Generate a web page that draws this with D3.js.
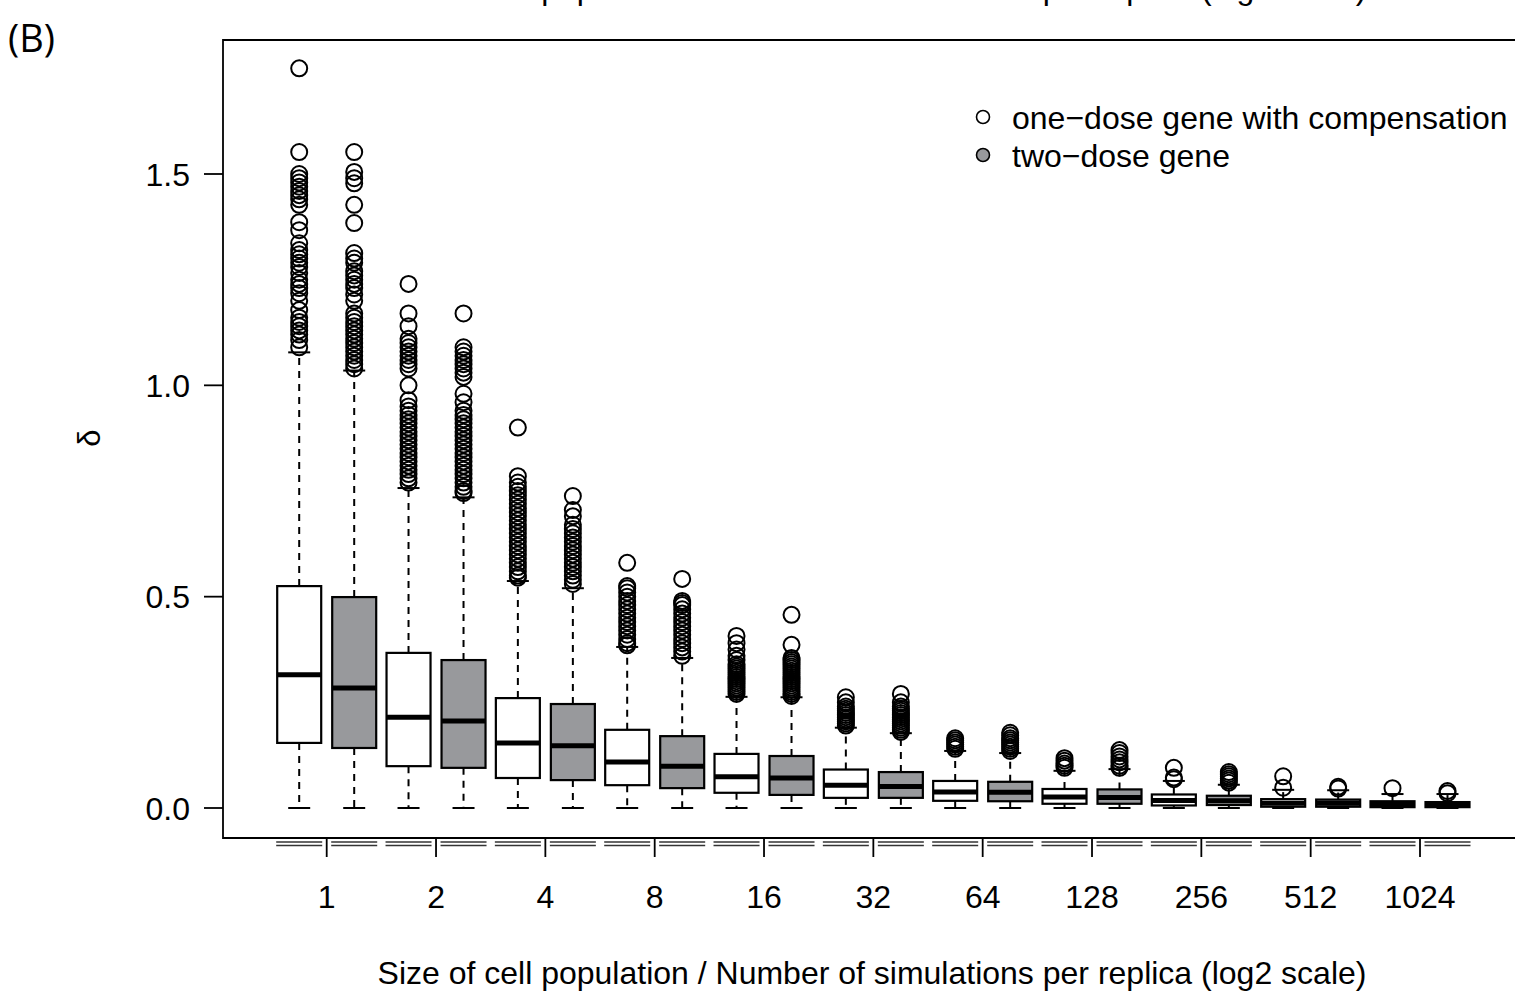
<!DOCTYPE html>
<html>
<head>
<meta charset="utf-8">
<script src="https://cdn.jsdelivr.net/npm/d3@7"></script>
<style>
  body { margin: 0; background: #fff; }
  text { font-family: "Liberation Sans", Arial, sans-serif; fill: #000; }
</style>
</head>
<body>
<script>
// group labels (log2 scale)
const groups = ["1", "2", "4", "8", "16", "32", "64", "128", "256", "512", "1024"];
const yTicks = [0, 0.5, 1.0, 1.5];

// [lower whisker, Q1, median, Q3, upper whisker]
const oneDoseStats = [
    [0, 0.154, 0.315, 0.525, 1.078],
    [0, 0.099, 0.215, 0.367, 0.757],
    [0, 0.071, 0.154, 0.260, 0.537],
    [0, 0.054, 0.109, 0.185, 0.381],
    [0, 0.036, 0.074, 0.128, 0.263],
    [0, 0.024, 0.054, 0.091, 0.190],
    [0, 0.017, 0.038, 0.064, 0.135],
    [0, 0.010, 0.026, 0.045, 0.088],
    [0, 0.006, 0.018, 0.032, 0.064],
    [0, 0.003, 0.011, 0.021, 0.043],
    [0, 0.002, 0.008, 0.016, 0.033]
];
const twoDoseStats = [
    [0, 0.142, 0.284, 0.499, 1.035],
    [0, 0.095, 0.206, 0.350, 0.735],
    [0, 0.066, 0.147, 0.246, 0.520],
    [0, 0.047, 0.099, 0.170, 0.355],
    [0, 0.031, 0.071, 0.123, 0.262],
    [0, 0.024, 0.051, 0.085, 0.177],
    [0, 0.016, 0.037, 0.062, 0.130],
    [0, 0.010, 0.025, 0.044, 0.092],
    [0, 0.007, 0.017, 0.029, 0.055],
    [0, 0.003, 0.011, 0.020, 0.042],
    [0, 0.002, 0.007, 0.014, 0.033]
];

const oneDoseOut = [
    [1.75, 1.552, 1.50, 1.49, 1.48, 1.47, 1.46, 1.45, 1.44, 1.427, 1.386, 1.367, 1.336, 1.32, 1.31, 1.30, 1.29, 1.28,
     1.266, 1.25, 1.24, 1.23, 1.218, 1.20, 1.178, 1.16, 1.15, 1.14, 1.13, 1.12, 1.107, 1.09],
    [1.24, 1.17, 1.14, 1.11, 1.10, 1.09, 1.08, 1.07, 1.06, 1.05, 1.04, 1.00, 0.965, 0.95, 0.94, 0.93, 0.92, 0.91,
     0.90, 0.89, 0.88, 0.87, 0.86, 0.85, 0.84, 0.83, 0.82, 0.81, 0.80, 0.79, 0.78, 0.77],
    [0.90, 0.785, 0.77, 0.76, 0.75, 0.74, 0.73, 0.72, 0.71, 0.70, 0.69, 0.68, 0.67, 0.66, 0.65, 0.64, 0.63, 0.62,
     0.61, 0.60, 0.59, 0.58, 0.57, 0.56, 0.55, 0.545],
    [0.58, 0.525, 0.52, 0.51, 0.50, 0.49, 0.48, 0.47, 0.46, 0.45, 0.44, 0.43, 0.42, 0.41, 0.40, 0.39, 0.385],
    [0.407, 0.39, 0.375, 0.36, 0.35, 0.34, 0.335, 0.33, 0.325, 0.32, 0.315, 0.31, 0.305, 0.30, 0.295, 0.29, 0.285,
     0.28, 0.275, 0.27],
    [0.262, 0.25, 0.24, 0.235, 0.23, 0.225, 0.22, 0.215, 0.21, 0.205, 0.20, 0.195],
    [0.165, 0.16, 0.155, 0.15, 0.145, 0.14],
    [0.118, 0.112, 0.105, 0.10, 0.095],
    [0.095, 0.072, 0.068],
    [0.075, 0.048],
    [0.047]
];
const twoDoseOut = [
    [1.552, 1.505, 1.49, 1.478, 1.427, 1.384, 1.313, 1.30, 1.29, 1.27, 1.26, 1.25, 1.24, 1.23, 1.215, 1.20, 1.17,
     1.16, 1.15, 1.14, 1.13, 1.12, 1.11, 1.10, 1.09, 1.08, 1.07, 1.06, 1.05, 1.04],
    [1.17, 1.09, 1.08, 1.07, 1.06, 1.05, 1.04, 1.03, 1.02, 0.98, 0.96, 0.94, 0.93, 0.92, 0.91, 0.90, 0.89, 0.88,
     0.87, 0.86, 0.85, 0.84, 0.83, 0.82, 0.81, 0.80, 0.79, 0.78, 0.77, 0.76, 0.75, 0.745],
    [0.738, 0.705, 0.69, 0.67, 0.66, 0.65, 0.64, 0.63, 0.62, 0.61, 0.60, 0.59, 0.58, 0.57, 0.56, 0.55, 0.54, 0.53],
    [0.542, 0.49, 0.485, 0.48, 0.47, 0.46, 0.45, 0.44, 0.43, 0.42, 0.41, 0.40, 0.39, 0.38, 0.37, 0.36],
    [0.457, 0.386, 0.355, 0.35, 0.345, 0.34, 0.335, 0.33, 0.325, 0.32, 0.315, 0.31, 0.305, 0.30, 0.295, 0.29,
     0.285, 0.28, 0.275, 0.27, 0.265],
    [0.27, 0.25, 0.24, 0.235, 0.23, 0.225, 0.22, 0.215, 0.21, 0.205, 0.20, 0.195, 0.19, 0.185, 0.18],
    [0.178, 0.172, 0.165, 0.16, 0.155, 0.15, 0.145, 0.14, 0.135],
    [0.137, 0.13, 0.122, 0.115, 0.108, 0.10, 0.095],
    [0.085, 0.08, 0.075, 0.07, 0.065, 0.06],
    [0.05, 0.046],
    [0.04, 0.035]
];

const series = [
    { name: "one\u2212dose gene with compensation", fill: "#ffffff", stats: oneDoseStats, out: oneDoseOut, dx: -27.5 },
    { name: "two\u2212dose gene", fill: "#98999c", stats: twoDoseStats, out: twoDoseOut, dx: 27.5 }
];

const W = 1515, H = 992;
const frame = { left: 223, top: 40, right: 1516, bottom: 838 };
const boxW = 44;
const fontSize = "32px";

const svg = d3.select("body").append("svg")
    .attr("width", W)
    .attr("height", H);

const x = d3.scalePoint().domain(groups).range([326.7, 1420]);
const y = d3.scaleLinear().domain([0, 1.5]).range([808, 174]);

// panel label and the cut-off axis title of the panel above
svg.append("text")
    .attr("x", 8).attr("y", 52)
    .style("font-family", "'Open Sans', sans-serif")
    .style("font-size", "38px")
    .text("(B)");

svg.append("text")
    .attr("x", 872).attr("y", -1)
    .attr("text-anchor", "middle")
    .style("font-size", fontSize)
    .text("Size of cell population / Number of simulations per replica (log2 scale)");

// boxes
series.forEach(s => {
    groups.forEach((gName, i) => {
        const [lo, q1, med, q3, hi] = s.stats[i];
        const cx = x(gName) + s.dx;
        const g = svg.append("g");

        g.append("line")
            .attr("x1", cx).attr("x2", cx)
            .attr("y1", y(q3)).attr("y2", y(hi))
            .attr("stroke", "#000").attr("stroke-width", 2)
            .attr("stroke-dasharray", "7,6");
        g.append("line")
            .attr("x1", cx).attr("x2", cx)
            .attr("y1", y(q1)).attr("y2", y(lo))
            .attr("stroke", "#000").attr("stroke-width", 2)
            .attr("stroke-dasharray", "7,6");

        // staples
        [lo, hi].forEach(v => {
            g.append("line")
                .attr("x1", cx - boxW / 4).attr("x2", cx + boxW / 4)
                .attr("y1", y(v)).attr("y2", y(v))
                .attr("stroke", "#000").attr("stroke-width", 2);
        });

        g.append("rect")
            .attr("x", cx - boxW / 2).attr("width", boxW)
            .attr("y", y(q3)).attr("height", y(q1) - y(q3))
            .attr("fill", s.fill)
            .attr("stroke", "#000").attr("stroke-width", 2.2);

        g.append("line")
            .attr("x1", cx - boxW / 2).attr("x2", cx + boxW / 2)
            .attr("y1", y(med)).attr("y2", y(med))
            .attr("stroke", "#000").attr("stroke-width", 5);

        g.selectAll("circle")
            .data(s.out[i])
            .enter().append("circle")
            .attr("cx", cx)
            .attr("cy", d => y(d))
            .attr("r", 8)
            .attr("fill", "none")
            .attr("stroke", "#000")
            .attr("stroke-width", 2);
    });
});

// frame (left part of the top rule is lighter in the original)
svg.append("path")
    .attr("d", `M952,${frame.top}H${frame.left}V${frame.bottom}H${frame.right}`)
    .attr("fill", "none")
    .attr("stroke", "#000")
    .attr("stroke-width", 1.8);
svg.append("line")
    .attr("x1", 952).attr("x2", frame.right)
    .attr("y1", frame.top).attr("y2", frame.top)
    .attr("stroke", "#000").attr("stroke-width", 2.2);

// y axis
const yAxis = svg.append("g");
yTicks.forEach(t => {
    yAxis.append("line")
        .attr("x1", 204).attr("x2", frame.left)
        .attr("y1", y(t)).attr("y2", y(t))
        .attr("stroke", "#000").attr("stroke-width", 1.8);
    yAxis.append("text")
        .attr("x", 190).attr("y", y(t))
        .attr("dy", "0.36em")
        .attr("text-anchor", "end")
        .style("font-size", fontSize)
        .text(d3.format(".1f")(t));
});

svg.append("text")
    .attr("transform", "translate(100,438) rotate(-90)")
    .attr("text-anchor", "middle")
    .style("font-size", "31px")
    .text("\u03b4");

// x axis: double rule under each box, ticks at group centres
const xAxis = svg.append("g");
series.forEach(s => {
    groups.forEach(gName => {
        const cx = x(gName) + s.dx;
        [842, 845.5].forEach(yy => {
            xAxis.append("line")
                .attr("x1", cx - boxW / 2 - 1).attr("x2", cx + boxW / 2 + 1)
                .attr("y1", yy).attr("y2", yy)
                .attr("stroke", "#333").attr("stroke-width", 1.3);
        });
    });
});
groups.forEach(gName => {
    xAxis.append("line")
        .attr("x1", x(gName)).attr("x2", x(gName))
        .attr("y1", frame.bottom).attr("y2", 857)
        .attr("stroke", "#000").attr("stroke-width", 1.8);
    xAxis.append("text")
        .attr("x", x(gName)).attr("y", 908)
        .attr("text-anchor", "middle")
        .style("font-size", fontSize)
        .text(gName);
});

svg.append("text")
    .attr("x", 872).attr("y", 984)
    .attr("text-anchor", "middle")
    .style("font-size", fontSize)
    .text("Size of cell population / Number of simulations per replica (log2 scale)");

// legend
const legend = svg.append("g");
series.forEach((s, i) => {
    const ly = 117 + i * 38;
    legend.append("circle")
        .attr("cx", 983).attr("cy", ly).attr("r", 6.5)
        .attr("fill", i === 0 ? "none" : s.fill)
        .attr("stroke", "#000").attr("stroke-width", 1.6);
    legend.append("text")
        .attr("x", 1012).attr("y", ly)
        .attr("dy", "0.36em")
        .style("font-size", fontSize)
        .text(s.name);
});
</script>
</body>
</html>
